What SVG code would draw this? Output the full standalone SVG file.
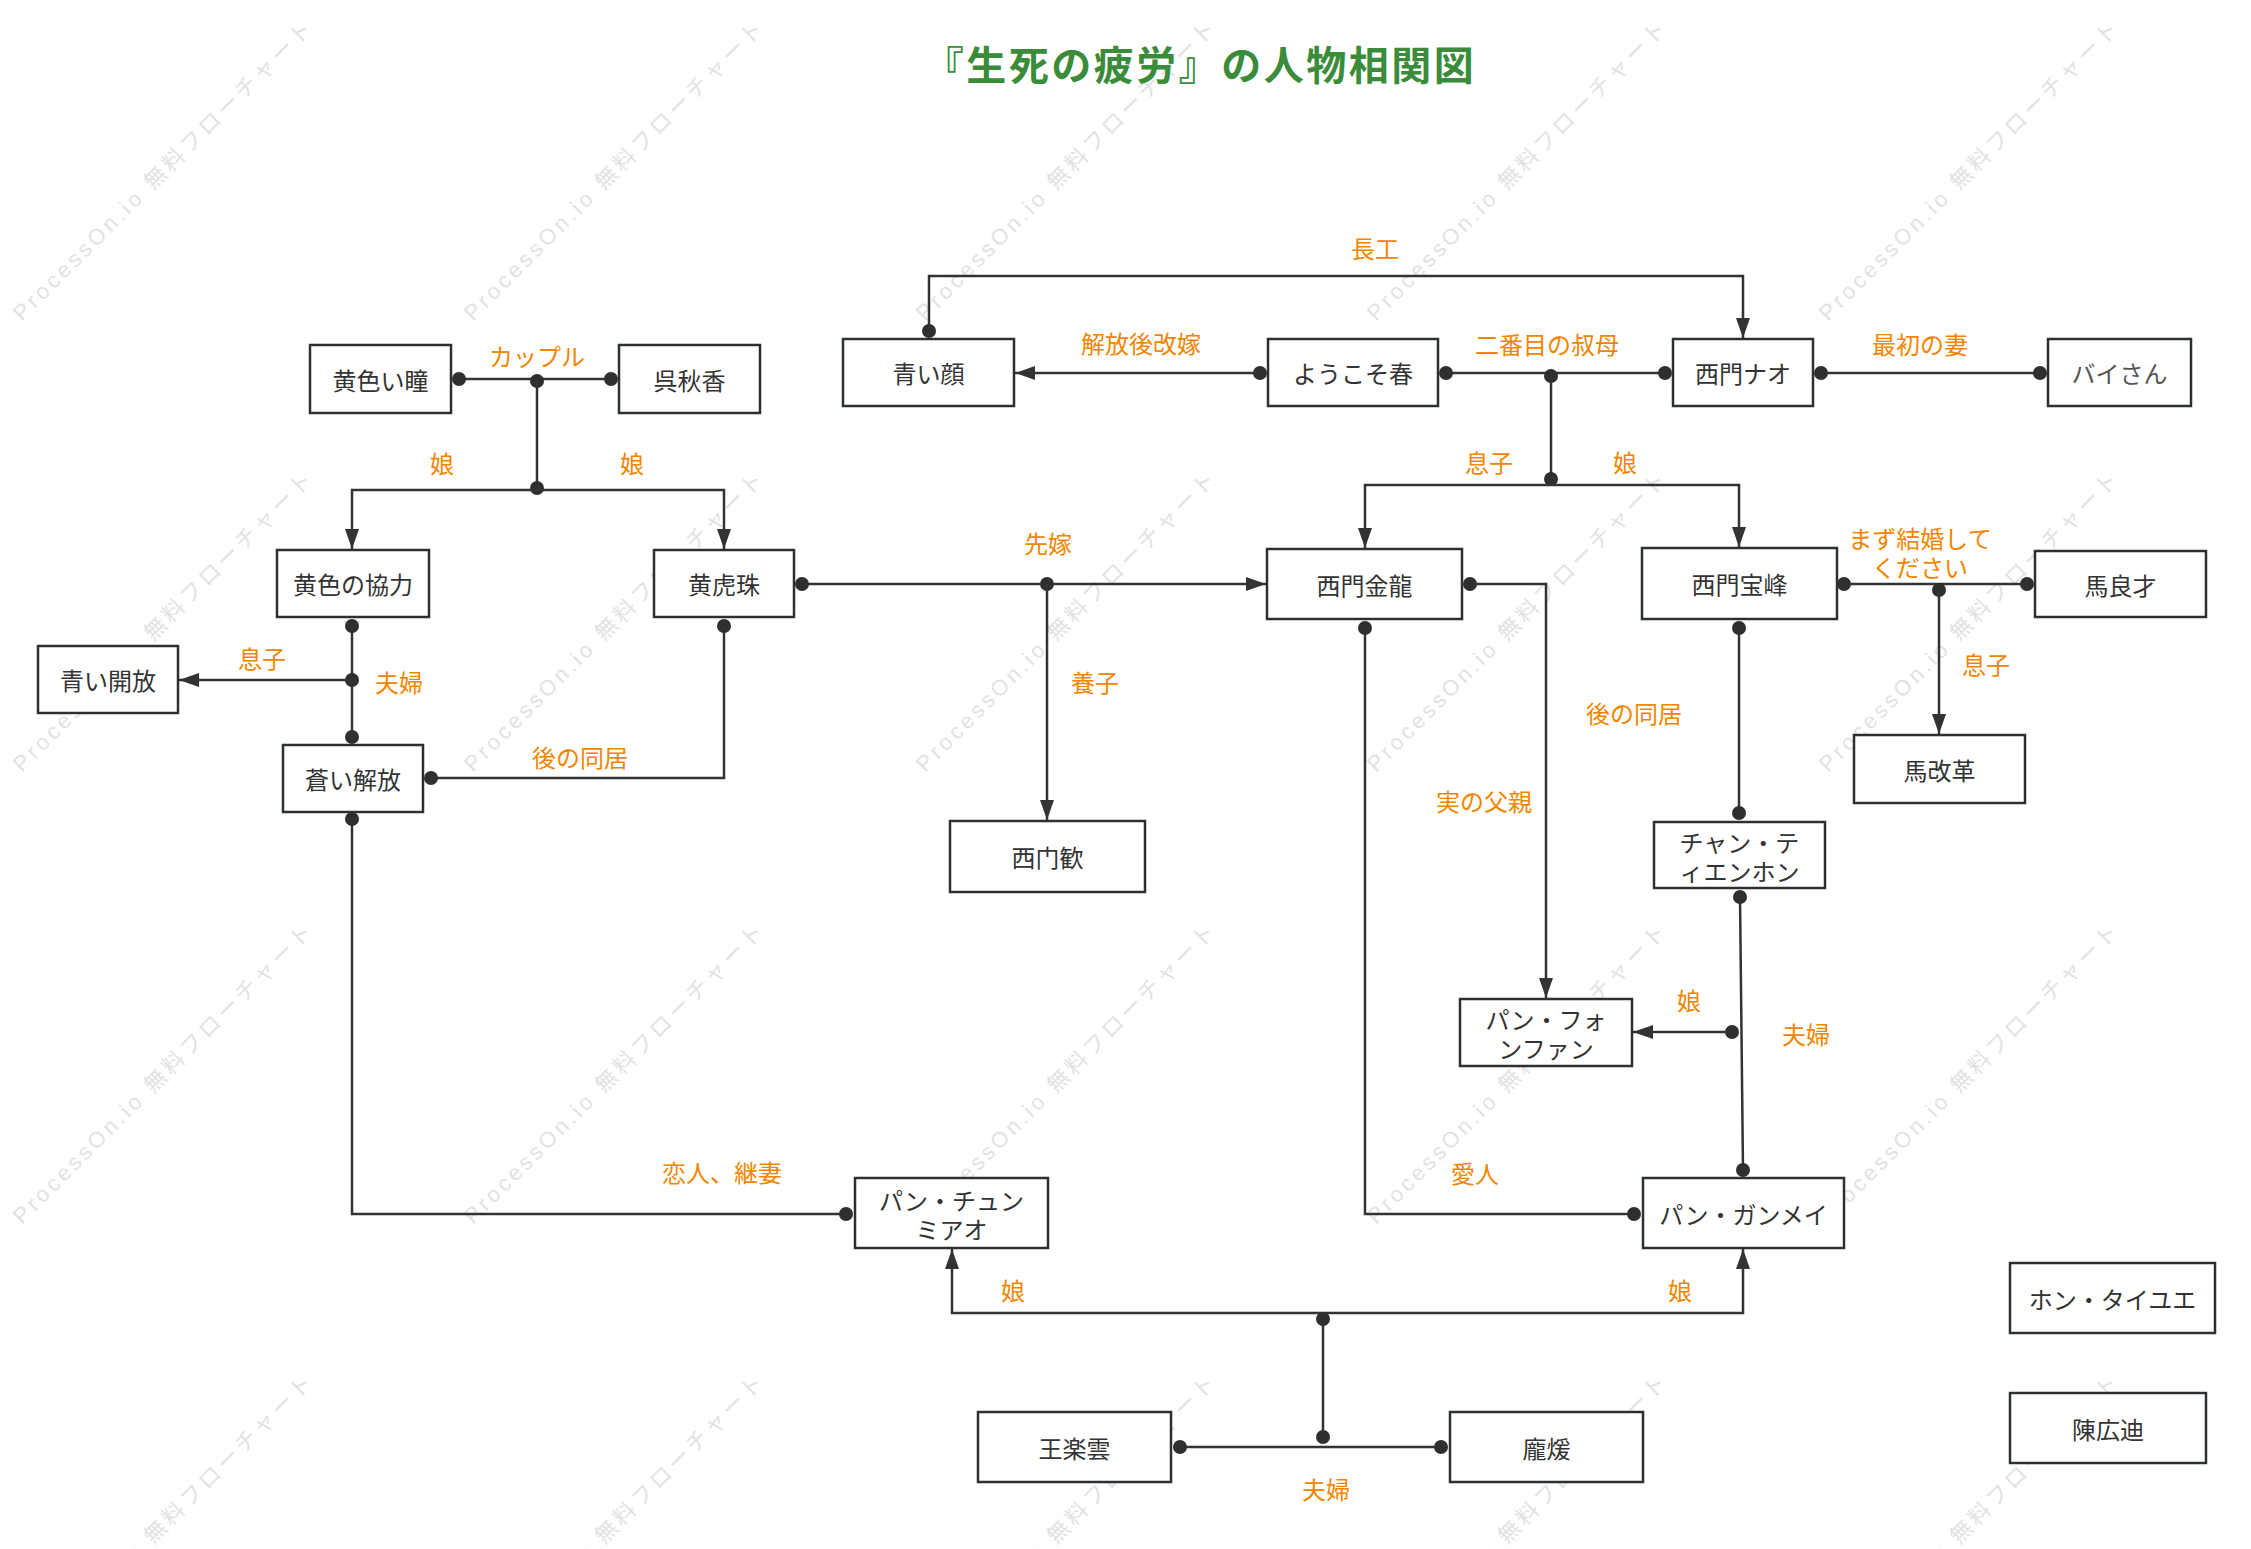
<svg xmlns="http://www.w3.org/2000/svg" width="2251" height="1549" viewBox="0 0 2251 1549">
<style>
.wm{font-family:"Liberation Sans","Noto Sans CJK JP",sans-serif;font-size:22px;fill:#e2e2e2}
.title{font-family:"Noto Sans CJK JP",sans-serif;font-size:40px;font-weight:bold;fill:#3a8c3a;letter-spacing:2.5px}
.box{fill:#fff;stroke:#2b3035;stroke-width:2.5}
.nt{font-family:"Noto Sans CJK JP",sans-serif;font-size:24px;fill:#333;text-anchor:middle;dominant-baseline:central}
.lbl{font-family:"Noto Sans CJK JP",sans-serif;font-size:24px;fill:#f28500;text-anchor:middle;dominant-baseline:central}
.c{fill:none;stroke:#333;stroke-width:2.5}
.a{marker-end:url(#arr)}
.d{fill:#2f2f2f}
</style>
<defs>
<marker id="arr" markerUnits="userSpaceOnUse" markerWidth="20" markerHeight="14" refX="20" refY="7" orient="auto">
<path d="M0,0 L20,7 L0,14 z" fill="#333"/>
</marker>
</defs>
<rect width="2251" height="1549" fill="#fff"/>
<g id="watermark">
<text class="wm" x="22" y="322" transform="rotate(-45 22 322)" textLength="412" lengthAdjust="spacing">ProcessOn.io 無料フローチャート</text>
<text class="wm" x="473" y="322" transform="rotate(-45 473 322)" textLength="412" lengthAdjust="spacing">ProcessOn.io 無料フローチャート</text>
<text class="wm" x="925" y="322" transform="rotate(-45 925 322)" textLength="412" lengthAdjust="spacing">ProcessOn.io 無料フローチャート</text>
<text class="wm" x="1376" y="322" transform="rotate(-45 1376 322)" textLength="412" lengthAdjust="spacing">ProcessOn.io 無料フローチャート</text>
<text class="wm" x="1828" y="322" transform="rotate(-45 1828 322)" textLength="412" lengthAdjust="spacing">ProcessOn.io 無料フローチャート</text>
<text class="wm" x="22" y="773" transform="rotate(-45 22 773)" textLength="412" lengthAdjust="spacing">ProcessOn.io 無料フローチャート</text>
<text class="wm" x="473" y="773" transform="rotate(-45 473 773)" textLength="412" lengthAdjust="spacing">ProcessOn.io 無料フローチャート</text>
<text class="wm" x="925" y="773" transform="rotate(-45 925 773)" textLength="412" lengthAdjust="spacing">ProcessOn.io 無料フローチャート</text>
<text class="wm" x="1376" y="773" transform="rotate(-45 1376 773)" textLength="412" lengthAdjust="spacing">ProcessOn.io 無料フローチャート</text>
<text class="wm" x="1828" y="773" transform="rotate(-45 1828 773)" textLength="412" lengthAdjust="spacing">ProcessOn.io 無料フローチャート</text>
<text class="wm" x="22" y="1225" transform="rotate(-45 22 1225)" textLength="412" lengthAdjust="spacing">ProcessOn.io 無料フローチャート</text>
<text class="wm" x="473" y="1225" transform="rotate(-45 473 1225)" textLength="412" lengthAdjust="spacing">ProcessOn.io 無料フローチャート</text>
<text class="wm" x="925" y="1225" transform="rotate(-45 925 1225)" textLength="412" lengthAdjust="spacing">ProcessOn.io 無料フローチャート</text>
<text class="wm" x="1376" y="1225" transform="rotate(-45 1376 1225)" textLength="412" lengthAdjust="spacing">ProcessOn.io 無料フローチャート</text>
<text class="wm" x="1828" y="1225" transform="rotate(-45 1828 1225)" textLength="412" lengthAdjust="spacing">ProcessOn.io 無料フローチャート</text>
<text class="wm" x="22" y="1676" transform="rotate(-45 22 1676)" textLength="412" lengthAdjust="spacing">ProcessOn.io 無料フローチャート</text>
<text class="wm" x="473" y="1676" transform="rotate(-45 473 1676)" textLength="412" lengthAdjust="spacing">ProcessOn.io 無料フローチャート</text>
<text class="wm" x="925" y="1676" transform="rotate(-45 925 1676)" textLength="412" lengthAdjust="spacing">ProcessOn.io 無料フローチャート</text>
<text class="wm" x="1376" y="1676" transform="rotate(-45 1376 1676)" textLength="412" lengthAdjust="spacing">ProcessOn.io 無料フローチャート</text>
<text class="wm" x="1828" y="1676" transform="rotate(-45 1828 1676)" textLength="412" lengthAdjust="spacing">ProcessOn.io 無料フローチャート</text>
</g>
<text class="title" x="1200" y="80" text-anchor="middle">『生死の疲労』の人物相関図</text>
<g id="connectors">
<path class="c a" d="M929,331 V276 H1743 V338"/>
<circle class="d" cx="929" cy="331" r="7"/>
<text class="lbl" x="1375" y="247">長工</text>
<path class="c a" d="M1260,373 H1015"/>
<circle class="d" cx="1260" cy="373" r="7"/>
<text class="lbl" x="1141" y="342">解放後改嫁</text>
<path class="c" d="M1446,373 H1665"/>
<circle class="d" cx="1446" cy="373" r="7"/>
<circle class="d" cx="1665" cy="373" r="7"/>
<circle class="d" cx="1551" cy="376" r="7"/>
<text class="lbl" x="1547" y="343">二番目の叔母</text>
<path class="c" d="M1551,376 V479"/>
<circle class="d" cx="1551" cy="479" r="7"/>
<path class="c a" d="M1551,485 H1365 V548"/>
<path class="c a" d="M1551,485 H1739 V547"/>
<text class="lbl" x="1489" y="461">息子</text>
<text class="lbl" x="1625" y="461">娘</text>
<path class="c" d="M1821,373 H2040"/>
<circle class="d" cx="1821" cy="373" r="7"/>
<circle class="d" cx="2040" cy="373" r="7"/>
<text class="lbl" x="1920" y="343">最初の妻</text>
<path class="c" d="M459,379 H611"/>
<circle class="d" cx="459" cy="379" r="7"/>
<circle class="d" cx="611" cy="379" r="7"/>
<circle class="d" cx="537" cy="381" r="7"/>
<text class="lbl" x="537" y="355">カップル</text>
<path class="c" d="M537,381 V488"/>
<circle class="d" cx="537" cy="488" r="7"/>
<path class="c a" d="M537,490 H352 V549"/>
<path class="c a" d="M537,490 H724 V549"/>
<text class="lbl" x="442" y="462">娘</text>
<text class="lbl" x="632" y="462">娘</text>
<path class="c" d="M352,626 V737"/>
<circle class="d" cx="352" cy="626" r="7"/>
<circle class="d" cx="352" cy="737" r="7"/>
<circle class="d" cx="352" cy="680" r="7"/>
<path class="c a" d="M352,680 H179"/>
<text class="lbl" x="262" y="657">息子</text>
<text class="lbl" x="399" y="681">夫婦</text>
<path class="c" d="M431,778 H724 V626"/>
<circle class="d" cx="431" cy="778" r="7"/>
<circle class="d" cx="724" cy="626" r="7"/>
<text class="lbl" x="580" y="756">後の同居</text>
<path class="c a" d="M802,584 H1266"/>
<circle class="d" cx="802" cy="584" r="7"/>
<circle class="d" cx="1047" cy="584" r="7"/>
<path class="c a" d="M1047,584 V820"/>
<text class="lbl" x="1048" y="542">先嫁</text>
<text class="lbl" x="1095" y="681">養子</text>
<path class="c a" d="M1470,584 H1546 V998"/>
<circle class="d" cx="1470" cy="584" r="7"/>
<text class="lbl" x="1484" y="800">実の父親</text>
<path class="c" d="M1844,584 H2027"/>
<circle class="d" cx="1844" cy="584" r="7"/>
<circle class="d" cx="2027" cy="584" r="7"/>
<circle class="d" cx="1939" cy="590" r="7"/>
<path class="c a" d="M1939,590 V734"/>
<text class="lbl" x="1920" y="537">まず結婚して</text>
<text class="lbl" x="1920" y="566">ください</text>
<text class="lbl" x="1986" y="663">息子</text>
<path class="c" d="M1739,628 V813"/>
<circle class="d" cx="1739" cy="628" r="7"/>
<circle class="d" cx="1739" cy="813" r="7"/>
<text class="lbl" x="1634" y="712">後の同居</text>
<path class="c" d="M1740,897 L1743,1170"/>
<circle class="d" cx="1740" cy="897" r="7"/>
<circle class="d" cx="1743" cy="1170" r="7"/>
<circle class="d" cx="1732" cy="1032" r="7"/>
<path class="c a" d="M1732,1032 H1633"/>
<text class="lbl" x="1689" y="999">娘</text>
<text class="lbl" x="1806" y="1033">夫婦</text>
<path class="c" d="M1365,628 V1214 H1634"/>
<circle class="d" cx="1365" cy="628" r="7"/>
<circle class="d" cx="1634" cy="1214" r="7"/>
<text class="lbl" x="1475" y="1172">愛人</text>
<path class="c" d="M352,819 V1214 H846"/>
<circle class="d" cx="352" cy="819" r="7"/>
<circle class="d" cx="846" cy="1214" r="7"/>
<text class="lbl" x="722" y="1171">恋人、継妻</text>
<path class="c" d="M1180,1447 H1441"/>
<circle class="d" cx="1180" cy="1447" r="7"/>
<circle class="d" cx="1441" cy="1447" r="7"/>
<circle class="d" cx="1323" cy="1437" r="7"/>
<path class="c" d="M1323,1437 V1319"/>
<circle class="d" cx="1323" cy="1319" r="7"/>
<path class="c a" d="M1323,1313 H952 V1249"/>
<path class="c a" d="M1323,1313 H1743 V1249"/>
<text class="lbl" x="1013" y="1289">娘</text>
<text class="lbl" x="1680" y="1289">娘</text>
<text class="lbl" x="1326" y="1488">夫婦</text>
</g>
<g id="n1"><rect class="box" x="310" y="345" width="141" height="68"/><text class="nt" x="380.5" y="379">黄色い瞳</text></g>
<g id="n2"><rect class="box" x="619" y="345" width="141" height="68"/><text class="nt" x="689.5" y="379">呉秋香</text></g>
<g id="n3"><rect class="box" x="843" y="339" width="171" height="67"/><text class="nt" x="928.5" y="372.5">青い顔</text></g>
<g id="n4"><rect class="box" x="1268" y="339" width="170" height="67"/><text class="nt" x="1353" y="372.5">ようこそ春</text></g>
<g id="n5"><rect class="box" x="1673" y="339" width="140" height="67"/><text class="nt" x="1743" y="372.5">西門ナオ</text></g>
<g id="n6"><rect class="box" x="2048" y="339" width="143" height="67"/><text class="nt" x="2119.5" y="372.5" style="fill:#555">バイさん</text></g>
<g id="n7"><rect class="box" x="277" y="550" width="152" height="67"/><text class="nt" x="353" y="583.5">黄色の協力</text></g>
<g id="n8"><rect class="box" x="654" y="550" width="140" height="67"/><text class="nt" x="724" y="583.5">黄虎珠</text></g>
<g id="n9"><rect class="box" x="1267" y="549" width="195" height="70"/><text class="nt" x="1364.5" y="584">西門金龍</text></g>
<g id="n10"><rect class="box" x="1642" y="548" width="195" height="71"/><text class="nt" x="1739.5" y="583.5">西門宝峰</text></g>
<g id="n11"><rect class="box" x="2035" y="551" width="171" height="66"/><text class="nt" x="2120.5" y="584">馬良才</text></g>
<g id="n12"><rect class="box" x="38" y="646" width="140" height="67"/><text class="nt" x="108" y="679.5">青い開放</text></g>
<g id="n13"><rect class="box" x="283" y="745" width="140" height="67"/><text class="nt" x="353" y="778.5">蒼い解放</text></g>
<g id="n14"><rect class="box" x="1854" y="735" width="171" height="68"/><text class="nt" x="1939.5" y="769">馬改革</text></g>
<g id="n15"><rect class="box" x="950" y="821" width="195" height="71"/><text class="nt" x="1047.5" y="856.5">西门歓</text></g>
<g id="n16"><rect class="box" x="1654" y="822" width="171" height="66"/><text class="nt" x="1739.5" y="841">チャン・テ</text><text class="nt" x="1739.5" y="870">ィエンホン</text></g>
<g id="n17"><rect class="box" x="1460" y="999" width="172" height="67"/><text class="nt" x="1546" y="1018">パン・フォ</text><text class="nt" x="1546" y="1047">ンファン</text></g>
<g id="n18"><rect class="box" x="855" y="1178" width="193" height="70"/><text class="nt" x="951.5" y="1199">パン・チュン</text><text class="nt" x="951.5" y="1228">ミアオ</text></g>
<g id="n19"><rect class="box" x="1643" y="1178" width="201" height="70"/><text class="nt" x="1743.5" y="1213">パン・ガンメイ</text></g>
<g id="n20"><rect class="box" x="978" y="1412" width="193" height="70"/><text class="nt" x="1074.5" y="1447">王楽雲</text></g>
<g id="n21"><rect class="box" x="1450" y="1412" width="193" height="70"/><text class="nt" x="1546.5" y="1447">龐煖</text></g>
<g id="n22"><rect class="box" x="2010" y="1263" width="205" height="70"/><text class="nt" x="2112.5" y="1298">ホン・タイユエ</text></g>
<g id="n23"><rect class="box" x="2010" y="1393" width="196" height="70"/><text class="nt" x="2108" y="1428">陳広迪</text></g>
</svg>
